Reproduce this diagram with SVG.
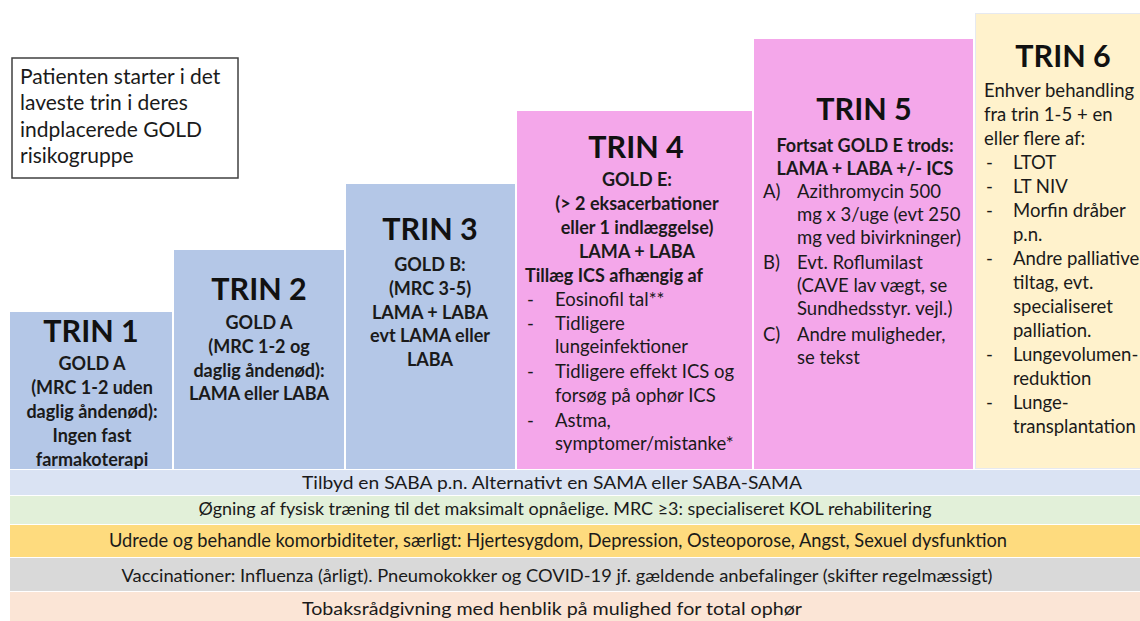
<svg xmlns="http://www.w3.org/2000/svg" width="1140" height="621" viewBox="0 0 1140 621">
<style>
text{font-family:Lato,"Open Sans","Liberation Sans",sans-serif;fill:#1a1a1a}
.h{font-size:30.5px;font-weight:bold;text-anchor:middle;fill:#111}
.b{font-size:18px;font-weight:bold;text-anchor:middle}
.bl{font-size:18px;font-weight:bold}
.t{font-size:18.5px}
.band{font-size:18px;text-anchor:middle}
.blue{fill:#b4c7e7}
.pink{fill:#f4a7ea}
.cream{fill:#fff2cc;stroke:#e6e9f0;stroke-width:1}
</style>
<rect width="1140" height="621" fill="#ffffff"/>
<g id="note">
<rect x="12" y="58" width="226" height="120" fill="#fff" stroke="#404040" stroke-width="1.5"/>
<text x="20" y="84" style="font-size:21px">Patienten starter i det</text>
<text x="20" y="110" style="font-size:21px">laveste trin i deres</text>
<text x="20" y="137" style="font-size:21px">indplacerede GOLD</text>
<text x="20" y="163" style="font-size:21px">risikogruppe</text>
</g>
<g id="trin1">
<rect class="blue" x="10" y="312" width="162" height="157"/>
<text class="h" x="91" y="342">TRIN 1</text>
<text class="b" x="92" y="370">GOLD A</text>
<text class="b" x="92" y="394">(MRC 1-2 uden</text>
<text class="b" x="92" y="418">daglig åndenød):</text>
<text class="b" x="92" y="442">Ingen fast</text>
<text class="b" x="92" y="466">farmakoterapi</text>
</g>
<g id="trin2">
<rect class="blue" x="174" y="250" width="170" height="219"/>
<text class="h" x="259" y="300">TRIN 2</text>
<text class="b" x="259" y="329">GOLD A</text>
<text class="b" x="259" y="353">(MRC 1-2 og</text>
<text class="b" x="259" y="377">daglig åndenød):</text>
<text class="b" x="259" y="400">LAMA eller LABA</text>
</g>
<g id="trin3">
<rect class="blue" x="346" y="184" width="169" height="285"/>
<text class="h" x="430" y="240">TRIN 3</text>
<text class="b" x="430" y="271">GOLD B:</text>
<text class="b" x="430" y="295">(MRC 3-5)</text>
<text class="b" x="430" y="319">LAMA + LABA</text>
<text class="b" x="430" y="342">evt LAMA eller</text>
<text class="b" x="430" y="366">LABA</text>
</g>
<g id="trin4">
<rect class="pink" x="517" y="111" width="235" height="358"/>
<text class="h" x="636" y="158">TRIN 4</text>
<text class="b" x="637" y="186">GOLD E:</text>
<text class="b" x="637" y="210">(&gt; 2 eksacerbationer</text>
<text class="b" x="637" y="234">eller 1 indlæggelse)</text>
<text class="b" x="637" y="258">LAMA + LABA</text>
<text class="bl" x="525" y="282">Tillæg ICS afhængig af</text>
<text class="t" x="527" y="306">-</text><text class="t" x="555" y="306">Eosinofil tal**</text>
<text class="t" x="527" y="330">-</text><text class="t" x="555" y="330">Tidligere</text>
<text class="t" x="555" y="353">lungeinfektioner</text>
<text class="t" x="527" y="378">-</text><text class="t" x="555" y="378">Tidligere effekt ICS og</text>
<text class="t" x="555" y="402">forsøg på ophør ICS</text>
<text class="t" x="527" y="427">-</text><text class="t" x="555" y="427">Astma,</text>
<text class="t" x="555" y="450">symptomer/mistanke*</text>
</g>
<g id="trin5">
<rect class="pink" x="754" y="39" width="219" height="430"/>
<text class="h" x="864" y="120">TRIN 5</text>
<text class="b" x="865" y="152">Fortsat GOLD E trods:</text>
<text class="b" x="865" y="175">LAMA + LABA +/- ICS</text>
<text class="t" x="763" y="198">A)</text><text class="t" x="797" y="198">Azithromycin 500</text>
<text class="t" x="797" y="221">mg x 3/uge (evt 250</text>
<text class="t" x="797" y="244">mg ved bivirkninger)</text>
<text class="t" x="763" y="269">B)</text><text class="t" x="797" y="269">Evt. Roflumilast</text>
<text class="t" x="797" y="292">(CAVE lav vægt, se</text>
<text class="t" x="797" y="315">Sundhedsstyr. vejl.)</text>
<text class="t" x="763" y="341">C)</text><text class="t" x="797" y="341">Andre muligheder,</text>
<text class="t" x="797" y="364">se tekst</text>
</g>
<g id="trin6">
<rect class="cream" x="975.5" y="13.5" width="170" height="455"/>
<text class="h" x="1063" y="67">TRIN 6</text>
<text class="t" x="984" y="97">Enhver behandling</text>
<text class="t" x="984" y="121">fra trin 1-5 + en</text>
<text class="t" x="984" y="145">eller flere af:</text>
<text class="t" x="986" y="169">-</text><text class="t" x="1013" y="169">LTOT</text>
<text class="t" x="986" y="193">-</text><text class="t" x="1013" y="193">LT NIV</text>
<text class="t" x="986" y="217">-</text><text class="t" x="1013" y="217">Morfin dråber</text>
<text class="t" x="1013" y="241">p.n.</text>
<text class="t" x="986" y="265">-</text><text class="t" x="1013" y="265">Andre palliative</text>
<text class="t" x="1013" y="289">tiltag, evt.</text>
<text class="t" x="1013" y="313">specialiseret</text>
<text class="t" x="1013" y="337">palliation.</text>
<text class="t" x="986" y="361">-</text><text class="t" x="1013" y="361">Lungevolumen-</text>
<text class="t" x="1013" y="385">reduktion</text>
<text class="t" x="986" y="409">-</text><text class="t" x="1013" y="409">Lunge-</text>
<text class="t" x="1013" y="433">transplantation</text>
</g>
<g id="bands">
<rect x="10" y="470" width="1130" height="25" fill="#dae3f3"/>
<rect x="10" y="496" width="1130" height="28" fill="#e2f0d9"/>
<rect x="10" y="525" width="1130" height="32" fill="#fedb7e"/>
<rect x="10" y="558" width="1130" height="33" fill="#d9d9d9"/>
<rect x="10" y="592" width="1130" height="29" fill="#fbe5d6"/>
<text class="band" x="552" y="489" textLength="500" lengthAdjust="spacingAndGlyphs">Tilbyd en SABA p.n. Alternativt en SAMA eller SABA-SAMA</text>
<text class="band" x="565" y="515" textLength="733" lengthAdjust="spacingAndGlyphs">Øgning af fysisk træning til det maksimalt opnåelige. MRC ≥3: specialiseret KOL rehabilitering</text>
<text class="band" x="558" y="547" textLength="898" lengthAdjust="spacingAndGlyphs" style="font-size:19px">Udrede og behandle komorbiditeter, særligt: Hjertesygdom, Depression, Osteoporose, Angst, Sexuel dysfunktion</text>
<text class="band" x="557" y="582" textLength="871" lengthAdjust="spacingAndGlyphs">Vaccinationer: Influenza (årligt). Pneumokokker og COVID-19 jf. gældende anbefalinger (skifter regelmæssigt)</text>
<text class="band" x="552" y="615" textLength="500" lengthAdjust="spacingAndGlyphs">Tobaksrådgivning med henblik på mulighed for total ophør</text>
</g>
</svg>
